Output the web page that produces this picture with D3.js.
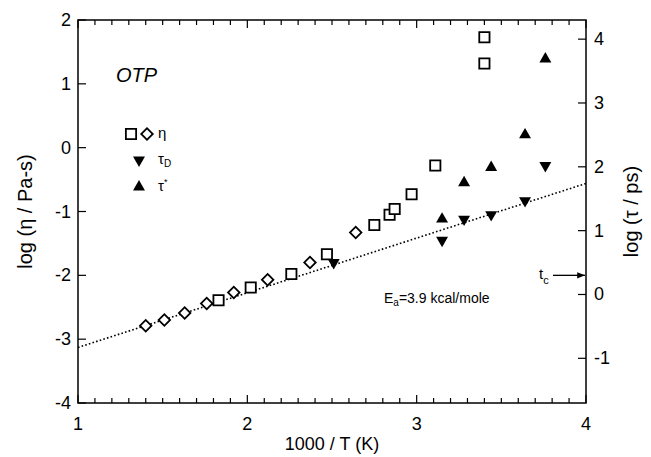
<!DOCTYPE html>
<html>
<head>
<meta charset="utf-8">
<script src="https://cdn.jsdelivr.net/npm/d3@7"></script>
<style>
body { margin: 0; background: #fff; }
svg text { font-family: "Liberation Sans", Arial, sans-serif; fill: #000; }
</style>
</head>
<body>
<svg id="svg"></svg>
<script>
// eta data (log Pa-s, left axis)
var squareX = [1.83, 2.02, 2.26, 2.47, 2.75, 2.84, 2.87, 2.97, 3.11, 3.40, 3.40];
var squareY = [-2.39, -2.19, -1.98, -1.67, -1.21, -1.05, -0.96, -0.73, -0.28, 1.32, 1.73];
var diamondX = [1.40, 1.51, 1.63, 1.76, 1.92, 2.12, 2.37, 2.64];
var diamondY = [-2.79, -2.70, -2.59, -2.44, -2.27, -2.07, -1.80, -1.33];
// tau data (log ps, right axis)
var tauDX = [2.51, 3.15, 3.28, 3.44, 3.64, 3.76];
var tauDY = [0.50, 0.85, 1.18, 1.25, 1.47, 2.02];
var tauStarX = [3.15, 3.28, 3.44, 3.64, 3.76];
var tauStarY = [1.18, 1.75, 1.99, 2.50, 3.69];
// Arrhenius line (left axis)
var fitX = [1, 4];
var fitY = [-3.13, -0.56];
var tc = 0.3;

var leftTicks = [-4, -3, -2, -1, 0, 1, 2];
var rightTicks = [-1, 0, 1, 2, 3, 4];
var xTicks = [1, 2, 3, 4];

var width = 651, height = 457;
var m = {left: 78, right: 586, top: 20, bottom: 403};

var svg = d3.select("#svg").attr("width", width).attr("height", height);

var x = d3.scaleLinear().domain([1, 4]).range([m.left, m.right]);
var y = d3.scaleLinear().domain([-4, 2]).range([m.bottom, m.top]);
var y2 = d3.scaleLinear().domain([-1.7, 4.3]).range([m.bottom, m.top]);

// frame
svg.append("rect")
    .attr("x", m.left).attr("y", m.top)
    .attr("width", m.right - m.left).attr("height", m.bottom - m.top)
    .attr("fill", "none").attr("stroke", "#000").attr("stroke-width", 1.5);

// x ticks, minor every 0.1
var minor = d3.range(1, 4.001, 0.1);
svg.append("g").selectAll("line").data(minor).enter().append("line")
    .attr("x1", function(d) { return x(d); }).attr("x2", function(d) { return x(d); })
    .attr("y1", m.bottom)
    .attr("y2", function(d) { return m.bottom - (Math.abs(d - Math.round(d)) < 0.01 ? 8 : 5); })
    .attr("stroke", "#000").attr("stroke-width", 1.2);
svg.append("g").selectAll("line").data(minor).enter().append("line")
    .attr("x1", function(d) { return x(d); }).attr("x2", function(d) { return x(d); })
    .attr("y1", m.top)
    .attr("y2", function(d) { return m.top + (Math.abs(d - Math.round(d)) < 0.01 ? 8 : 5); })
    .attr("stroke", "#000").attr("stroke-width", 1.2);

svg.append("g").selectAll("text").data(xTicks).enter().append("text")
    .attr("x", function(d) { return x(d); })
    .attr("y", m.bottom + 27)
    .attr("text-anchor", "middle")
    .attr("font-size", 18)
    .text(function(d) { return d; });

// left ticks
svg.append("g").selectAll("line").data(leftTicks).enter().append("line")
    .attr("x1", m.left).attr("x2", m.left + 8)
    .attr("y1", function(d) { return y(d); }).attr("y2", function(d) { return y(d); })
    .attr("stroke", "#000").attr("stroke-width", 1.2);
svg.append("g").selectAll("text").data(leftTicks).enter().append("text")
    .attr("x", m.left - 7)
    .attr("y", function(d) { return y(d) + 6; })
    .attr("text-anchor", "end")
    .attr("font-size", 18)
    .text(function(d) { return d; });

// right ticks
svg.append("g").selectAll("line").data(rightTicks).enter().append("line")
    .attr("x1", m.right).attr("x2", m.right - 8)
    .attr("y1", function(d) { return y2(d); }).attr("y2", function(d) { return y2(d); })
    .attr("stroke", "#000").attr("stroke-width", 1.2);
svg.append("g").selectAll("text").data(rightTicks).enter().append("text")
    .attr("x", m.right + 8)
    .attr("y", function(d) { return y2(d) + 6; })
    .attr("text-anchor", "start")
    .attr("font-size", 18)
    .text(function(d) { return d; });

// axis titles
svg.append("text")
    .attr("transform", "translate(32," + ((m.top + m.bottom) / 2) + ") rotate(-90)")
    .attr("text-anchor", "middle").attr("font-size", 20)
    .text("log (η / Pa-s)");
svg.append("text")
    .attr("transform", "translate(638," + ((m.top + m.bottom) / 2) + ") rotate(-90)")
    .attr("text-anchor", "middle").attr("font-size", 20)
    .text("log (τ / ps)");
svg.append("text")
    .attr("x", (m.left + m.right) / 2).attr("y", 450)
    .attr("text-anchor", "middle").attr("font-size", 18)
    .text("1000 / T (K)");

// fit line
svg.append("path")
    .datum(d3.zip(fitX, fitY))
    .attr("d", d3.line().x(function(d) { return x(d[0]); }).y(function(d) { return y(d[1]); }))
    .attr("fill", "none").attr("stroke", "#000").attr("stroke-width", 1.6)
    .attr("stroke-dasharray", "1.6,2.2");

var sq = d3.symbol().type(d3.symbolSquare).size(105);
var dia = d3.symbol().type(d3.symbolSquare).size(66);
var tri = d3.symbol().type(d3.symbolTriangle).size(62);

svg.append("g").selectAll("path").data(d3.zip(squareX, squareY)).enter().append("path")
    .attr("d", sq)
    .attr("transform", function(d) { return "translate(" + x(d[0]) + "," + y(d[1]) + ")"; })
    .attr("fill", "#fff").attr("stroke", "#000").attr("stroke-width", 1.8);

svg.append("g").selectAll("path").data(d3.zip(diamondX, diamondY)).enter().append("path")
    .attr("d", dia)
    .attr("transform", function(d) { return "translate(" + x(d[0]) + "," + y(d[1]) + ") rotate(45)"; })
    .attr("fill", "#fff").attr("stroke", "#000").attr("stroke-width", 1.8);

svg.append("g").selectAll("path").data(d3.zip(tauDX, tauDY)).enter().append("path")
    .attr("d", tri)
    .attr("transform", function(d) { return "translate(" + x(d[0]) + "," + y2(d[1]) + ") rotate(180)"; })
    .attr("fill", "#000");

svg.append("g").selectAll("path").data(d3.zip(tauStarX, tauStarY)).enter().append("path")
    .attr("d", tri)
    .attr("transform", function(d) { return "translate(" + x(d[0]) + "," + y2(d[1]) + ")"; })
    .attr("fill", "#000");

// legend
var leg = svg.append("g");
leg.append("path").attr("d", sq).attr("transform", "translate(131,134)")
    .attr("fill", "#fff").attr("stroke", "#000").attr("stroke-width", 1.8);
leg.append("path").attr("d", dia)
    .attr("transform", "translate(147,134) rotate(45)")
    .attr("fill", "#fff").attr("stroke", "#000").attr("stroke-width", 1.8);
leg.append("text").attr("x", 158).attr("y", 138).attr("font-size", 15).text("η");
leg.append("path").attr("d", tri).attr("transform", "translate(139,160) rotate(180)").attr("fill", "#000");
var tD = leg.append("text").attr("x", 158).attr("y", 164).attr("font-size", 15).text("τ");
tD.append("tspan").attr("font-size", 10).attr("dy", 3).text("D");
leg.append("path").attr("d", tri).attr("transform", "translate(139,187)").attr("fill", "#000");
var tS = leg.append("text").attr("x", 158).attr("y", 191).attr("font-size", 15).text("τ");
tS.append("tspan").attr("font-size", 9).attr("dy", -6).text("*");

svg.append("text").attr("x", 116).attr("y", 82)
    .attr("font-size", 20).attr("font-style", "italic").text("OTP");

var ea = svg.append("text").attr("x", 384).attr("y", 303).attr("font-size", 14).text("E");
ea.append("tspan").attr("font-size", 10).attr("dy", 3).text("a");
ea.append("tspan").attr("dy", -3).text("=3.9 kcal/mole");

// t_c arrow
svg.append("defs").append("marker")
    .attr("id", "arr").attr("viewBox", "0 0 10 10").attr("refX", 10).attr("refY", 5)
    .attr("markerWidth", 8).attr("markerHeight", 6).attr("orient", "auto")
    .append("path").attr("d", "M0,1L10,5L0,9Z").attr("fill", "#000");
svg.append("line")
    .attr("x1", m.right - 33).attr("x2", m.right - 1)
    .attr("y1", y2(tc)).attr("y2", y2(tc))
    .attr("stroke", "#000").attr("stroke-width", 1.3).attr("marker-end", "url(#arr)");
var tcl = svg.append("text").attr("x", 539).attr("y", y2(tc) + 4).attr("font-size", 15).text("t");
tcl.append("tspan").attr("font-size", 11).attr("dy", 5).text("c");
</script>
</body>
</html>
